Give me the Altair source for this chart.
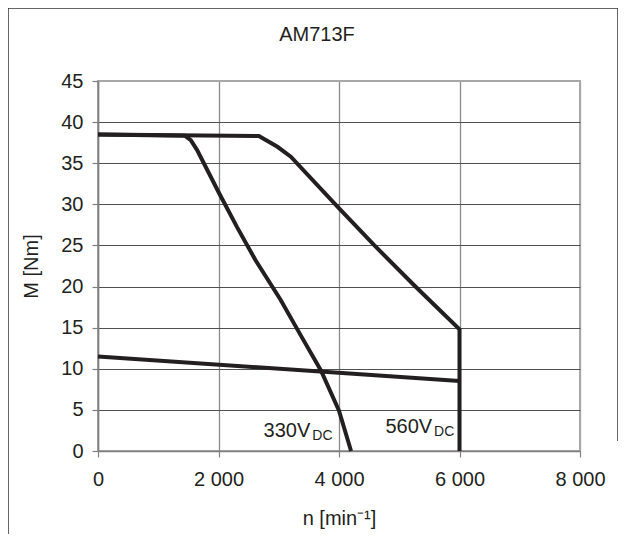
import altair as alt
import pandas as pd

# ---- data ----
n_330 = [0, 1440, 1540, 1645, 2000, 2310, 2615, 3030, 3370, 3700, 4000, 4200]
m_330 = [38.5, 38.35, 37.8, 36.6, 31.5, 27.2, 23.2, 18.4, 14.0, 9.8, 4.9, 0.0]
n_560 = [0, 2670, 2978, 3200, 3978, 4588, 5255, 6000, 6000]
m_560 = [38.5, 38.3, 37.0, 35.8, 29.7, 25.0, 20.1, 14.8, 0.0]
n_low = [0, 6000]
m_low = [11.5, 8.5]

label_main = ["330V", "560V"]
label_sub = ["DC", "DC"]
label_n = [3540, 5562]
label_m = [1.74, 2.23]

x_ticks = [0, 2000, 4000, 6000, 8000]
y_ticks = [0, 5, 10, 15, 20, 25, 30, 35, 40, 45]

INK = "#231f20"
FONT = "Liberation Sans"

rows = []
for s, ns, ms in [("330", n_330, m_330), ("560", n_560, m_560), ("low", n_low, m_low)]:
    for i, (a, b) in enumerate(zip(ns, ms)):
        rows.append({"series": s, "n": a, "M": b, "order": i})
df = pd.DataFrame(rows)

lab = pd.DataFrame({"n": label_n, "M": label_m, "main": label_main, "sub": label_sub})

xscale = alt.Scale(domain=[0, 8000], nice=False, zero=False)
yscale = alt.Scale(domain=[0, 45], nice=False)

X = alt.X("n:Q", scale=xscale, title="n [min⁻¹]",
          axis=alt.Axis(values=x_ticks, labelExpr="replace(format(datum.value, ','), ',', ' ')",
                        labelPadding=12, titlePadding=19, labelFlush=False,
                        gridColor={"condition": {"test": "datum.value == 8000", "value": "#a8a8a8"},
                                   "value": "#8a8a8a"},
                        gridWidth=1.3))
Y = alt.Y("M:Q", scale=yscale, title="M [Nm]",
          axis=alt.Axis(values=y_ticks, labelPadding=9, titlePadding=19, labelFlush=False,
                        gridColor={"condition": {"test": "datum.value == 45", "value": "#a8a8a8"},
                                   "value": "#505050"},
                        gridWidth=1))

lines = alt.Chart(df).mark_line(color=INK, strokeWidth=4, strokeJoin="miter", strokeCap="butt").encode(
    x=X, y=Y, detail="series:N", order="order:Q",
)

txt_main = alt.Chart(lab).mark_text(align="right", baseline="alphabetic", fontSize=20, font=FONT,
                                    color=INK, dx=-1).encode(x=X, y=Y, text="main:N")
txt_sub = alt.Chart(lab).mark_text(align="left", baseline="alphabetic", fontSize=14, font=FONT,
                                   color=INK, dx=1, dy=3).encode(x=X, y=Y, text="sub:N")

one = alt.Data(values=[{"k": 1}])
frame_style = dict(color="#333333", strokeWidth=1.5)
left_rule = alt.Chart(one).mark_rule(**frame_style).encode(
    x=alt.value(-90), y=alt.value(-73), y2=alt.value(461))
top_rule = alt.Chart(one).mark_rule(**frame_style).encode(
    x=alt.value(-90), x2=alt.value(520), y=alt.value(-73))
right_rule = alt.Chart(one).mark_rule(**frame_style).encode(
    x=alt.value(520), y=alt.value(-73), y2=alt.value(360))

chart = alt.layer(lines, txt_main, txt_sub, left_rule, top_rule, right_rule).properties(
    width=482,
    height=370,
    title=alt.Title("AM713F", anchor="middle", frame="bounds", offset=-38, dx=4),
    autosize=alt.AutoSizeParams(type="none"),
    padding={"left": 90, "top": 73, "right": 38, "bottom": 83},
).configure_view(
    stroke="#a8a8a8", strokeWidth=2
).configure_axis(
    labelFont=FONT, labelFontSize=20, labelColor=INK,
    titleFont=FONT, titleFontSize=20, titleFontWeight="normal", titleColor=INK,
    domainColor="#808080", domainWidth=1.5, tickColor="#808080", tickWidth=1.2, tickSize=6,
).configure_title(
    font=FONT, fontSize=20, fontWeight="normal", color=INK
)

chart.save("out.html", embed_options={"renderer": "svg", "actions": False})
